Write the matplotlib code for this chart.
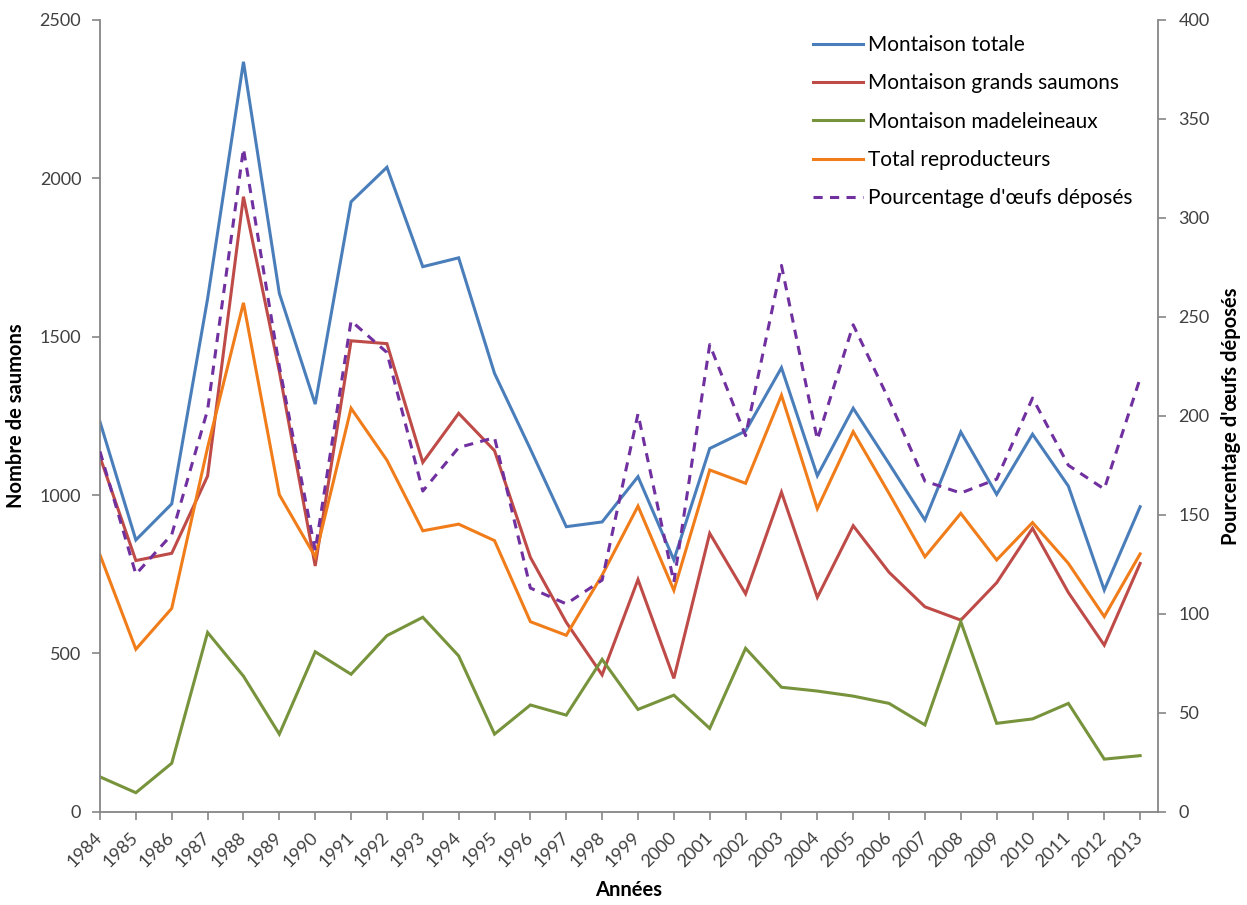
import matplotlib
matplotlib.use("Agg")
import matplotlib.pyplot as plt

plt.rcParams['font.family'] = ['Lato', 'DejaVu Sans']

years = list(range(1984, 2014))
montaison_totale = [1231, 858, 972, 1620, 2368, 1637, 1287, 1926, 2035, 1721,
                    1749, 1384, 1145, 900, 915, 1058, 795, 1147, 1202, 1402,
                    1061, 1274, 1099, 921, 1199, 1002, 1192, 1028, 700, 963]
grands_saumons = [1120, 793, 816, 1060, 1942, 1390, 776, 1487, 1478, 1103,
                  1258, 1140, 803, 598, 432, 733, 421, 879, 688, 1009,
                  677, 903, 756, 647, 605, 723, 895, 692, 526, 784]
madeleineaux = [110, 60, 153, 566, 428, 245, 505, 434, 556, 614,
                492, 245, 337, 305, 481, 323, 368, 263, 516, 393,
                381, 365, 342, 274, 600, 279, 293, 342, 166, 177]
reproducteurs = [811, 513, 642, 1150, 1607, 1001, 805, 1274, 1110, 887,
                 908, 856, 600, 557, 747, 965, 699, 1079, 1037, 1315,
                 957, 1200, 1005, 805, 942, 795, 913, 784, 616, 814]
pct_oeufs = [182, 120, 140, 203, 335, 225, 132, 248, 232, 162,
             184, 189, 113, 105, 117, 201, 116, 236, 190, 276,
             188, 246, 208, 167, 161, 168, 209, 175, 163, 219]

labels = ["Montaison totale", "Montaison grands saumons", "Montaison madeleineaux",
          "Total reproducteurs", "Pourcentage d'\u0153ufs d\u00e9pos\u00e9s"]
colors = ["#4A7EBB", "#BE4B48", "#77933C", "#F07D1A", "#7030A0"]

W, H = 1247, 905
fig = plt.figure(figsize=(W / 100, H / 100), dpi=100)
L, R, T, B = 100, 1157.7, 20, 811.7
ax = fig.add_axes([L / W, 1 - B / H, (R - L) / W, (B - T) / H])

x = list(range(len(years)))
lw = 2.2
series = [montaison_totale, grands_saumons, madeleineaux, reproducteurs]
handles = []
for s, c, lab in zip(series, colors[:4], labels[:4]):
    h, = ax.plot(x, s, color=c, lw=lw, label=lab, solid_joinstyle='miter')
    handles.append(h)

ax2 = ax.twinx()
h, = ax2.plot(x, pct_oeufs, color=colors[4], lw=lw, ls=(0, (3.0, 2.4)), label=labels[4])
handles.append(h)

ax.set_xlim(0, 29.49)
ax.set_ylim(0, 2500)
ax2.set_ylim(0, 400)
ax.set_yticks(range(0, 2501, 500))
ax2.set_yticks(range(0, 401, 50))
ax.set_xticks(x)
ax.set_xticklabels([str(y) for y in years], rotation=45, ha='right',
                   rotation_mode='anchor', va='center')

spine_c = '#868686'
tick_c = '#404040'
for a in (ax, ax2):
    for sp in a.spines.values():
        sp.set_visible(False)
ax.spines['left'].set_visible(True)
ax.spines['bottom'].set_visible(True)
ax2.spines['right'].set_visible(True)
for sp in (ax.spines['left'], ax.spines['bottom'], ax2.spines['right']):
    sp.set_color(spine_c)
    sp.set_linewidth(1.3)

ax.tick_params(axis='y', direction='out', length=5.5, width=1.2, color=spine_c,
               labelsize=13, labelcolor=tick_c, pad=8)
ax.tick_params(axis='x', direction='out', length=6, width=1.2, color=spine_c,
               labelsize=13, labelcolor=tick_c, pad=11)
ax2.tick_params(axis='y', direction='out', length=6, width=1.2, color=spine_c,
                labelsize=13, labelcolor=tick_c, pad=9)

ax.set_ylabel("Nombre de saumons", fontsize=14.5, fontweight='bold', labelpad=10)
ax.set_xlabel("Ann\u00e9es", fontsize=14.5, fontweight='bold', labelpad=7)
ax2.set_ylabel(labels[4], fontsize=14.5, fontweight='bold', rotation=90, labelpad=8)

fig.legend(handles=handles, labels=labels, loc='upper left',
           bbox_to_anchor=(813 / W, 1 - 35 / H), bbox_transform=fig.transFigure,
           frameon=False, fontsize=15, handlelength=2.4, handletextpad=0.25,
           labelspacing=0.88, borderpad=0, borderaxespad=0)

fig.savefig("out.png", dpi=100)
